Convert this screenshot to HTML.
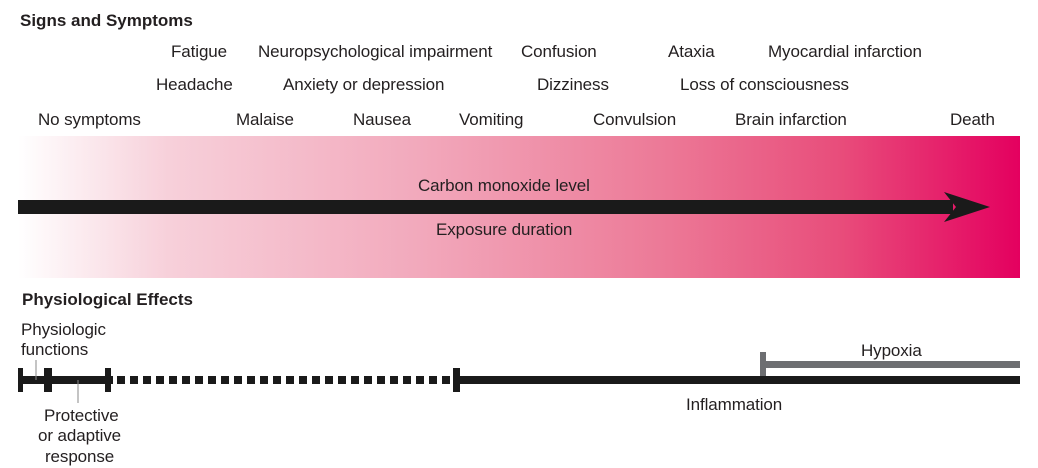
<!DOCTYPE html>
<html><head><style>
body{margin:0;width:1038px;height:468px;background:#fff;position:relative;overflow:hidden;font-family:"Liberation Sans",sans-serif;color:#231f20}
.t{position:absolute;font-size:17px;white-space:nowrap;line-height:1;letter-spacing:-0.1px}
.b{position:absolute;font-size:17px;font-weight:bold;white-space:nowrap;line-height:1}
</style></head><body>
<div class="b" style="left:20px;top:12px">Signs and Symptoms</div>
<div class="t" style="left:171px;top:43px">Fatigue</div>
<div class="t" style="left:258px;top:43px">Neuropsychological impairment</div>
<div class="t" style="left:521px;top:43px">Confusion</div>
<div class="t" style="left:668px;top:43px">Ataxia</div>
<div class="t" style="left:768px;top:43px">Myocardial infarction</div>
<div class="t" style="left:156px;top:76px">Headache</div>
<div class="t" style="left:283px;top:76px">Anxiety or depression</div>
<div class="t" style="left:537px;top:76px">Dizziness</div>
<div class="t" style="left:680px;top:76px">Loss of consciousness</div>
<div class="t" style="left:38px;top:111px">No symptoms</div>
<div class="t" style="left:236px;top:111px">Malaise</div>
<div class="t" style="left:353px;top:111px">Nausea</div>
<div class="t" style="left:459px;top:111px">Vomiting</div>
<div class="t" style="left:593px;top:111px">Convulsion</div>
<div class="t" style="left:735px;top:111px">Brain infarction</div>
<div class="t" style="left:950px;top:111px">Death</div>
<div style="position:absolute;left:18px;top:136px;width:1002px;height:142px;background:linear-gradient(to right,#fff 0%,#f7d0da 15%,#f2a9bc 40%,#ec7896 65%,#e84d7b 82%,#e4005f 100%)"></div>
<svg style="position:absolute;left:0;top:0" width="1038" height="468">
<rect x="18" y="200" width="935" height="14" fill="#1a1a1a"/>
<polygon points="944,192 990,207 944,222 956,207" fill="#1a1a1a"/>
<rect x="18" y="376" width="95" height="8" fill="#1a1a1a"/>
<line x1="117" y1="380" x2="452" y2="380" stroke="#1a1a1a" stroke-width="8" stroke-dasharray="8,5"/>
<rect x="455" y="376" width="565" height="8" fill="#1a1a1a"/>
<rect x="18" y="368" width="5" height="24" fill="#1a1a1a"/>
<rect x="44" y="368" width="8" height="24" fill="#1a1a1a"/>
<rect x="105" y="368" width="6" height="24" fill="#1a1a1a"/>
<rect x="453" y="368" width="7" height="24" fill="#1a1a1a"/>
<rect x="760" y="352" width="6" height="24" fill="#6d6e71"/>
<rect x="760" y="361" width="260" height="7" fill="#6d6e71"/>
<line x1="36" y1="360" x2="36" y2="380" stroke="#888" stroke-width="1"/>
<line x1="78" y1="380" x2="78" y2="403" stroke="#888" stroke-width="1"/>
</svg>
<div class="t" style="left:418px;top:177px">Carbon monoxide level</div>
<div class="t" style="left:436px;top:221px">Exposure duration</div>
<div class="b" style="left:22px;top:291px">Physiological Effects</div>
<div class="t" style="left:21px;top:321px">Physiologic</div>
<div class="t" style="left:21px;top:341px">functions</div>
<div class="t" style="left:861px;top:342px">Hypoxia</div>
<div class="t" style="left:686px;top:396px">Inflammation</div>
<div class="t" style="left:44px;top:407px">Protective</div>
<div class="t" style="left:38px;top:427px">or adaptive</div>
<div class="t" style="left:45px;top:448px">response</div>
</body></html>
